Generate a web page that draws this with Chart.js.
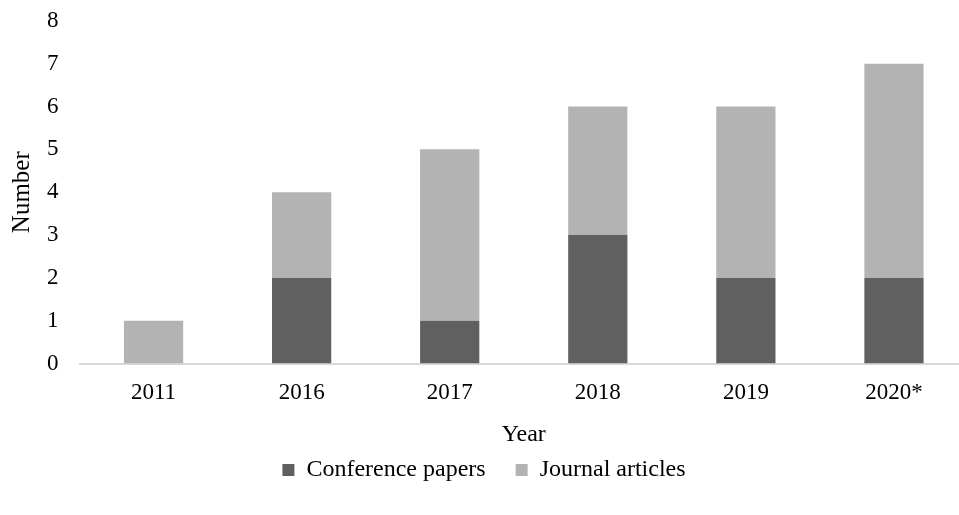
<!DOCTYPE html>
<html>
<head>
<meta charset="utf-8">
<script src="https://cdn.jsdelivr.net/npm/chart.js@4"></script>
<style>
  html, body { margin: 0; padding: 0; background: #fff; overflow: hidden; }
  #wrap { width: 968px; height: 521px; margin-top: -6px; }
</style>
</head>
<body>
<div id="wrap"><canvas id="papers"></canvas></div>
<script>
const years = ['2011', '2016', '2017', '2018', '2019', '2020*'];
const conferencePapers = [0, 2, 1, 3, 2, 2];
const journalArticles = [1, 2, 4, 3, 4, 5];
const yTicks = [0, 1, 2, 3, 4, 5, 6, 7, 8];

const family = '"Liberation Serif", "Times New Roman", serif';
const tickFont = { family: family, size: 23 };
const titleFont = { family: family, size: 24 };

new Chart(document.getElementById('papers'), {
    type: 'bar',
    data: {
        labels: years,
        datasets: [
            { label: 'Conference papers', data: conferencePapers, backgroundColor: '#606060' },
            { label: 'Journal articles', data: journalArticles, backgroundColor: '#b3b3b3' }
        ]
    },
    options: {
        responsive: true,
        maintainAspectRatio: false,
        animation: false,
        layout: { padding: { top: 0, left: 0, right: 0, bottom: 23 } },
        datasets: { bar: { barPercentage: 0.4, categoryPercentage: 1 } },
        plugins: {
            legend: {
                position: 'bottom',
                labels: { font: titleFont, color: '#000', boxWidth: 12, boxHeight: 12, padding: 30 }
            },
            tooltip: { enabled: false }
        },
        scales: {
            x: {
                stacked: true,
                grid: { display: false },
                border: { color: '#d9d9d9', width: 2 },
                ticks: { font: tickFont, color: '#000', padding: 8 },
                title: { display: true, text: 'Year', font: titleFont, color: '#000', padding: { top: 5, bottom: -21 } }
            },
            y: {
                stacked: true,
                min: 0,
                max: 8,
                afterBuildTicks: axis => { axis.ticks = yTicks.map(v => ({ value: v })); },
                grid: { display: false },
                border: { display: false },
                ticks: { font: tickFont, color: '#000', padding: 13 },
                title: { display: true, text: 'Number', font: { family: family, size: 25 }, color: '#000', padding: { top: 7, bottom: -3 } }
            }
        }
    }
});
</script>
</body>
</html>
